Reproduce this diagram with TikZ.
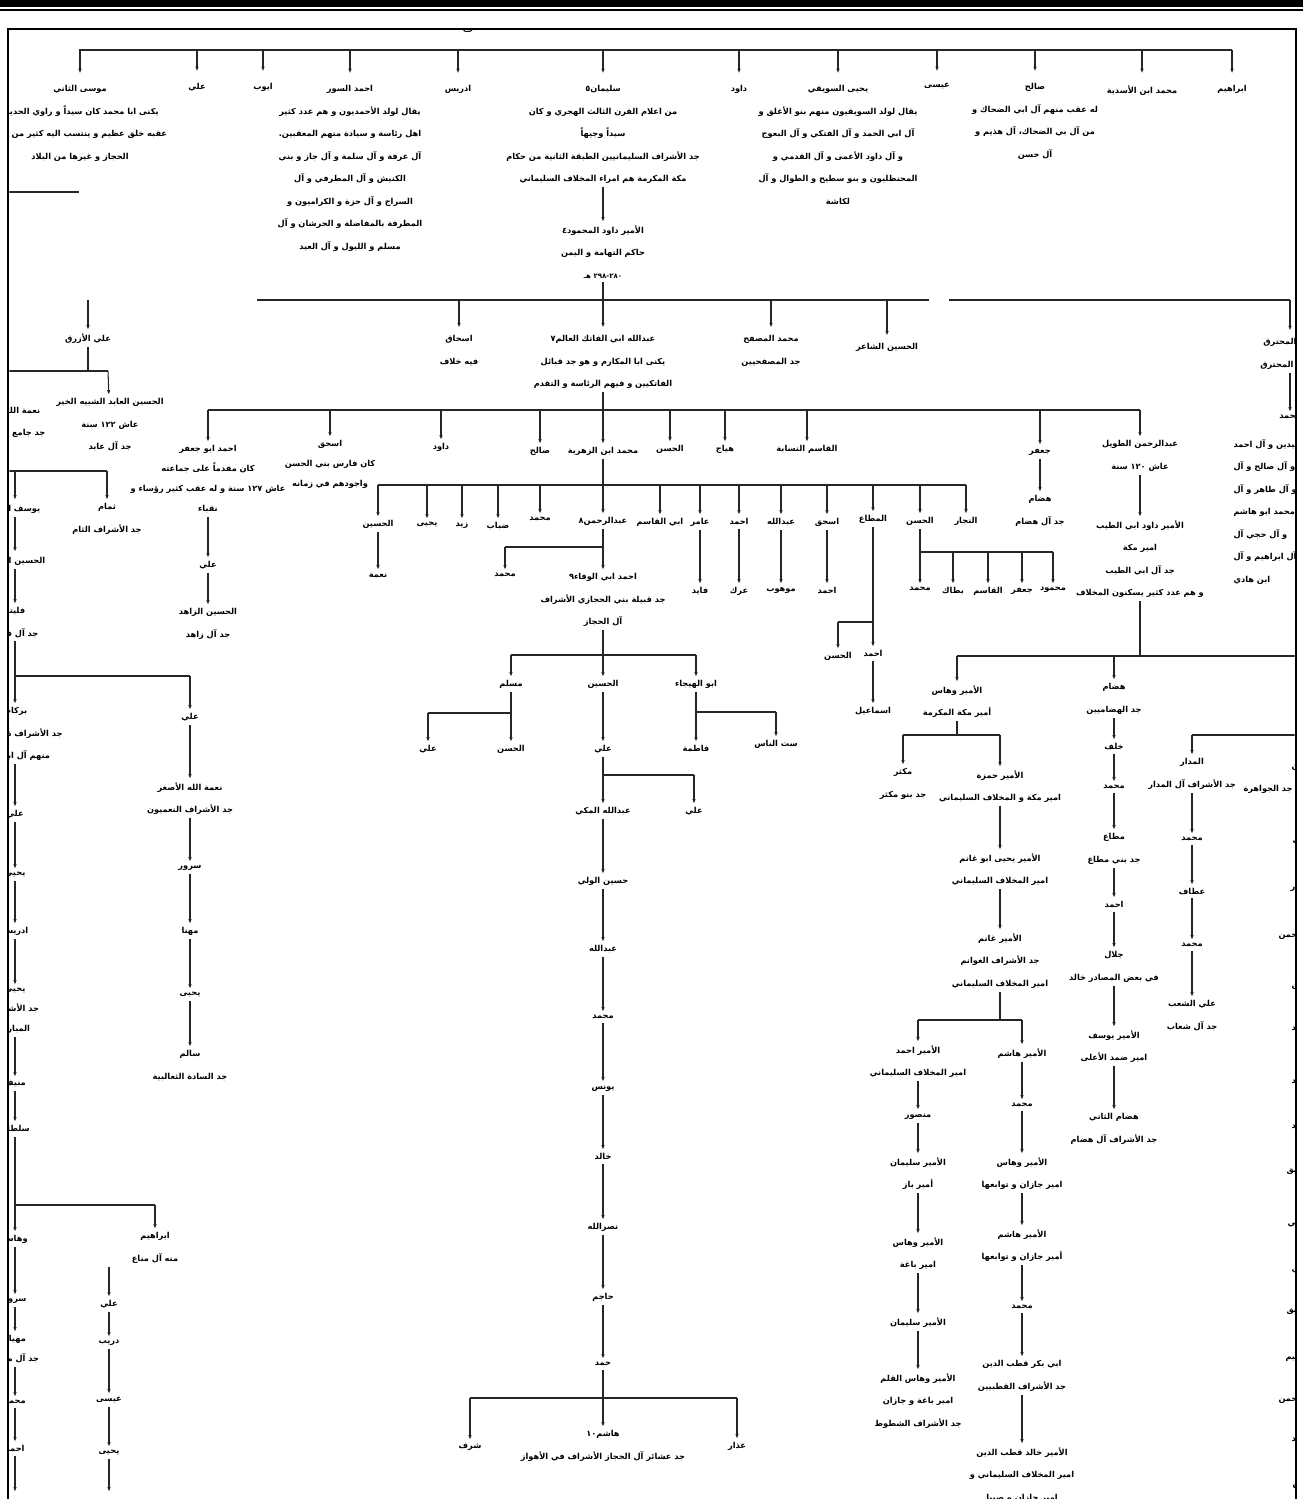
\documentclass[tikz,border=0pt]{standalone}
\usepackage{fontspec}
\newfontfamily\arabicfont[Script=Arabic]{DejaVu Sans}
\TeXXeTstate=1
\usetikzlibrary{arrows.meta,positioning}
\newcommand\arl[1]{\beginR #1\endR}
\newcommand\num[1]{\beginL#1\endL{}}

\begin{document}
\begin{tikzpicture}[x=0.05cm,y=-0.05cm,
  nm/.style={font=\arabicfont\bfseries\fontsize{11.7}{32}\selectfont,align=center,
             inner sep=1pt,outer sep=4pt,anchor=north},
  tight/.style={font=\arabicfont\bfseries\fontsize{11.7}{28.5}\selectfont},
  arr/.style={-{Latex[length=7pt,width=5pt]},line width=1.5pt,draw=black!85},
  ln/.style={line width=1.5pt,draw=black!85}
]
\useasboundingbox (0,0) rectangle (1303,1499);
% page rules and frame
\fill (0,0.5) rectangle (1303,7);
\fill (0,9.3) rectangle (1303,11.3);
\draw[line width=3.5pt] (8,1499) -- (8,29) -- (1296,29) -- (1296,1499);

\begin{scope}
\clip (9.3,30.3) rectangle (1294.7,1499);

% ---------- first generation
\node[nm] (darj)  at (470,23)  {\arl{درج}};
\coordinate (b1) at (79,50);
\node[nm] (ibr)   at (1232,82) {\arl{ابراهيم}};
\node[nm] (masad) at (1142,82) {\arl{محمد ابن الأسدية}};
\node[nm] (salih) at (1035,80) {\arl{صالح}\\\arl{له عقب منهم آل ابي الضحاك و}\\
  \arl{من آل بي الضحاك، آل هذيم و}\\\arl{آل حسن}};
\node[nm] (isa)   at (937,80)  {\arl{عيسى}};
\node[nm] (yahya) at (838,82)  {\arl{يحيى السويقي}\\
  \arl{يقال لولد السويقيون منهم بنو الأغلق و}\\
  \arl{آل ابي الحمد و آل الفتكي و آل البعوج}\\
  \arl{و آل داود الأعمى و آل القدمي و}\\
  \arl{المحنظليون و بنو سطيح و الطوال و آل}\\\arl{لكاشة}};
\node[nm] (dawud) at (739,82)  {\arl{داود}};
\node[nm] (sulay) at (603,82)  {\arl{سليمان٥}\\
  \arl{من اعلام القرن الثالث الهجري و كان}\\\arl{سيداً وجيهاً}\\
  \arl{جد الأشراف السليمانيين الطبقة الثانية من حكام}\\
  \arl{مكة المكرمة هم امراء المخلاف السليماني}};
\node[nm] (dawudM) at (603,222) {\arl{الأمير داود المحمود٤}\\\arl{حاكم التهامة و اليمن}\\
  {\fontsize{10}{10}\selectfont\arl{\num{٢٨٠-٢٩٨} هـ}}};
\node[nm] (idris) at (458,82)  {\arl{ادريس}};
\node[nm] (ahsur) at (350,82)  {\arl{احمد السور}\\
  \arl{يقال لولد الأحمديون و هم عدد كثير}\\
  \arl{اهل رئاسة و سيادة منهم المعقبين.}\\
  \arl{آل عرفة و آل سلمة و آل جاز و بني}\\
  \arl{الكنيش و آل المطرفي و آل}\\
  \arl{السراج و آل حزة و الكراميون و}\\
  \arl{المطرفة بالمفاضلة و الحرشان و آل}\\
  \arl{مسلم و الليول و آل العيد}};
\node[nm] (ayyub) at (263,80)  {\arl{ايوب}};
\node[nm] (ali1)  at (197,80)  {\arl{علي}};
\node[nm] (musa)  at (80,82)   {\arl{موسى الثاني}\\
  \arl{يكنى ابا محمد كان سيداً و راوي الحديث}\\
  \arl{عقبه خلق عظيم و ينتسب اليه كثير من أهل}\\
  \arl{الحجاز و غيرها من البلاد}};

\draw[ln] (b1) -- (b1 -| ibr);
\foreach \c in {ibr,masad,salih,isa,yahya,dawud,sulay,idris,ahsur,ayyub,ali1,musa}
  \draw[arr,shorten >=12pt] (b1 -| \c) -- (\c);
\draw[arr] (sulay) -- (dawudM);
\coordinate (lm) at (79,192);
\draw[ln] (0,192) -- (lm);

% ---------- second generation
\coordinate (b2) at (603,300);
\coordinate (b2L) at (257,300);
\coordinate (b2R) at (1290,300);
\node[nm] (ishaq1) at (459,332) {\arl{اسحاق}\\\arl{فيه خلاف}};
\node[nm] (abdFat) at (603,332) {\arl{عبدالله ابي الفاتك العالم٧}\\
  \arl{يكنى ابا المكارم و هو جد قبائل}\\
  \arl{الفاتكيين و فيهم الرئاسة و التقدم}};
\node[nm] (msfh)   at (771,332) {\arl{محمد المصفح}\\\arl{جد المصفحيين}};
\node[nm] (hshaer) at (887,340) {\arl{الحسين الشاعر}};
\node[nm] (mhtrq)  at (1290,335) {\arl{علي المحترق}\\\arl{جد آل المحترق}};
\node[nm] (muhR)   at (1290,412) {\arl{محمد}};
\node[nm,anchor=north west,align=left] (mhtrqD) at (1230,436)
  {\arl{منهم آل الحميدين و آل احمد}\\\arl{و آل صالح و آل}\\\arl{و آل طاهر و آل}\\
   \arl{و آل محمد ابو هاشم}\\\arl{و آل حجي آل}\\\arl{آل ابراهيم و آل}\\\arl{ابن هادي}};

\draw[ln] (dawudM) -- (b2);
\draw[ln] (b2L) -- (929,300);
\draw[ln] (949,300) -- (b2R);
\foreach \c in {ishaq1,abdFat,msfh,hshaer,mhtrq}
  \draw[arr,shorten >=6pt] (b2 -| \c) -- (\c);
\draw[arr] (mhtrq) -- (muhR);

% ---------- third generation
\coordinate (b3) at (603,410);
\node[nm,tight] (ajafar) at (208,442) {\arl{احمد ابو جعفر}\\\arl{كان مقدماً على جماعته}\\
  \arl{عاش \num{١٢٧} سنة و له عقب كثير رؤساء و}\\\arl{نقباء}};
\node[nm] (aliZ)   at (208,558) {\arl{علي}};
\node[nm] (hsZ)    at (208,605) {\arl{الحسين الزاهد}\\\arl{جد آل زاهد}};
\node[nm,tight] (ishaq2) at (330,437) {\arl{اسحق}\\\arl{كان فارس بني الحسن}\\\arl{واجودهم في زمانه}};
\node[nm] (dawud2) at (441,440) {\arl{داود}};
\node[nm] (salih2) at (540,444) {\arl{صالح}};
\node[nm] (zuhri)  at (603,444) {\arl{محمد ابن الزهرية}};
\node[nm] (hasan3) at (670,442) {\arl{الحسن}};
\node[nm] (hayyaj) at (725,442) {\arl{هياج}};
\node[nm] (qasim)  at (807,442) {\arl{القاسم النسابة}};
\node[nm] (jafar)  at (1040,445) {\arl{جعفر}};
\node[nm] (hdam)   at (1040,492) {\arl{هضام}\\\arl{جد آل هضام}};
\node[nm] (trwl)   at (1140,437) {\arl{عبدالرحمن الطويل}\\\arl{عاش \num{١٢٠} سنة}};
\node[nm] (dtayb)  at (1140,517) {\arl{الأمير داود ابي الطيب}\\\arl{امير مكة}\\
  \arl{جد آل ابي الطيب}\\\arl{و هم عدد كثير يسكنون المخلاف}};

\draw[ln] (b3 -| ajafar) -- (b3 -| trwl);
\draw[ln] (abdFat) -- (b3);
\foreach \c in {ajafar,ishaq2,dawud2,salih2,zuhri,hasan3,hayyaj,qasim,jafar,trwl}
  \draw[arr] (b3 -| \c) -- (\c);
\draw[arr] (ajafar) -- (aliZ);
\draw[arr] (aliZ) -- (hsZ);
\draw[arr] (jafar) -- (hdam);
\draw[arr] (trwl) -- (dtayb);

% ---------- sons of muhammad ibn al-zuhriya
\coordinate (b4) at (603,485);
\node[nm] (hsn4)   at (378,517) {\arl{الحسين}};
\node[nm] (nima1)  at (378,570) {\arl{نعمة}};
\node[nm] (yahya4) at (427,519) {\arl{يحيى}};
\node[nm] (zayd)   at (462,519) {\arl{زيد}};
\node[nm] (dabab)  at (498,519) {\arl{ضباب}};
\node[nm] (muh4)   at (540,514) {\arl{محمد}};
\node[nm] (abdrah) at (603,514) {\arl{عبدالرحمن٨}};
\node[nm] (abuq)   at (660,515) {\arl{ابي القاسم}};
\node[nm] (amir)   at (700,515) {\arl{عامر}};
\node[nm] (ahmad4) at (739,515) {\arl{احمد}};
\node[nm] (abdl4)  at (781,515) {\arl{عبدالله}};
\node[nm] (ishaq4) at (827,515) {\arl{اسحق}};
\node[nm] (mutaa)  at (873,512) {\arl{المطاع}};
\node[nm] (hasan4) at (920,514) {\arl{الحسن}};
\node[nm] (najjar) at (966,514) {\arl{النجار}};
\node[nm] (fayid)  at (700,584) {\arl{فايد}};
\node[nm] (arak)   at (739,584) {\arl{عرك}};
\node[nm] (mawhub) at (781,584) {\arl{موهوب}};
\node[nm] (ahmad5) at (827,584) {\arl{احمد}};

\draw[ln] (b4 -| hsn4) -- (b4 -| najjar);
\foreach \c in {hsn4,yahya4,zayd,dabab,muh4,abuq,amir,ahmad4,abdl4,ishaq4,mutaa,hasan4,najjar}
  \draw[arr] (b4 -| \c) -- (\c);
\draw[arr] (zuhri) -- (abdrah);
\draw[arr] (hsn4) -- (nima1);
\draw[arr] (amir) -- (fayid);
\draw[arr] (ahmad4) -- (arak);
\draw[arr] (abdl4) -- (mawhub);
\draw[arr] (ishaq4) -- (ahmad5);

% al-hasan's sons
\coordinate (b14) at (920,552);
\node[nm] (muh5)   at (920,584) {\arl{محمد}};
\node[nm] (battak) at (953,584) {\arl{بطاك}};
\node[nm] (qasim5) at (988,584) {\arl{القاسم}};
\node[nm] (jafar5) at (1022,584) {\arl{جعفر}};
\node[nm] (mahmud) at (1053,584) {\arl{محمود}};
\draw[ln] (hasan4) -- (b14);
\draw[ln] (b14) -- (b14 -| mahmud);
\foreach \c in {muh5,battak,qasim5,jafar5,mahmud}
  \draw[arr] (b14 -| \c) -- (\c);

% al-mutaa
\coordinate (b13) at (873,622);
\node[nm] (ahmad6) at (873,647) {\arl{احمد}};
\node[nm] (hasan6) at (838,649) {\arl{الحسن}};
\node[nm] (ismail) at (873,704) {\arl{اسماعيل}};
\draw[arr] (mutaa) -- (ahmad6);
\draw[ln] (b13) -- (b13 -| hasan6);
\draw[arr] (b13 -| hasan6) -- (hasan6);
\draw[arr] (ahmad6) -- (ismail);

% ---------- abdulrahman and ahmad abi al-wafa
\coordinate (b7) at (603,547);
\node[nm] (muh6) at (505,570) {\arl{محمد}};
\node[nm] (wafa) at (603,570) {\arl{احمد ابي الوفاء٩}\\
  \arl{جد قبيلة بني الحجازي الأشراف}\\\arl{آل الحجاز}};
\draw[arr] (abdrah) -- (wafa);
\draw[ln] (b7) -- (b7 -| muh6);
\draw[arr] (b7 -| muh6) -- (muh6);

\coordinate (b8) at (603,655);
\node[nm] (muslim) at (511,677) {\arl{مسلم}};
\node[nm] (husn7)  at (603,677) {\arl{الحسين}};
\node[nm] (hayja)  at (696,677) {\arl{ابو الهيجاء}};
\draw[ln] (b8 -| muslim) -- (b8 -| hayja);
\draw[arr] (wafa) -- (husn7);
\draw[arr] (b8 -| muslim) -- (muslim);
\draw[arr] (b8 -| hayja) -- (hayja);

\coordinate (b9) at (511,713);
\coordinate (b10) at (696,712);
\node[nm] (ali7)   at (428,742) {\arl{علي}};
\node[nm] (hasan7) at (511,742) {\arl{الحسن}};
\node[nm] (ali8)   at (603,742) {\arl{علي}};
\node[nm] (fatima) at (696,742) {\arl{فاطمة}};
\node[nm] (sitt)   at (776,737) {\arl{ست الناس}};
\draw[arr] (muslim) -- (hasan7);
\draw[ln] (b9) -- (b9 -| ali7);
\draw[arr] (b9 -| ali7) -- (ali7);
\draw[arr] (husn7) -- (ali8);
\draw[arr] (hayja) -- (fatima);
\draw[ln] (b10) -- (b10 -| sitt);
\draw[arr] (b10 -| sitt) -- (sitt);

\coordinate (b11) at (603,775);
\node[nm] (makki) at (603,804)  {\arl{عبدالله المكي}};
\node[nm] (ali9)  at (694,804)  {\arl{علي}};
\node[nm] (wali)  at (603,874)  {\arl{حسين الولي}};
\node[nm] (abdl9) at (603,942)  {\arl{عبدالله}};
\node[nm] (muh9)  at (603,1012) {\arl{محمد}};
\node[nm] (yunus) at (603,1082) {\arl{يونس}};
\node[nm] (khald) at (603,1150) {\arl{خالد}};
\node[nm] (nasr)  at (603,1220) {\arl{نصرالله}};
\node[nm] (hajim) at (603,1290) {\arl{حاجم}};
\node[nm] (hamad) at (603,1359) {\arl{حمد}};
\draw[arr] (ali8) -- (makki);
\draw[ln] (b11) -- (b11 -| ali9);
\draw[arr] (b11 -| ali9) -- (ali9);
\foreach \a/\b in {makki/wali,wali/abdl9,abdl9/muh9,muh9/yunus,yunus/khald,
                   khald/nasr,nasr/hajim,hajim/hamad}
  \draw[arr] (\a) -- (\b);

\coordinate (b12) at (603,1398);
\node[nm] (sharaf) at (470,1440) {\arl{شرف}};
\node[nm] (hshm10) at (603,1427) {\arl{هاشم١٠}\\\arl{جد عشائر آل الحجاز الأشراف في الأهواز}};
\node[nm] (adhar)  at (737,1439) {\arl{عذار}};
\draw[ln] (b12 -| sharaf) -- (b12 -| adhar);
\draw[arr] (hamad) -- (hshm10);
\draw[arr] (b12 -| sharaf) -- (sharaf);
\draw[arr] (b12 -| adhar) -- (adhar);

% ---------- sons of dawud abi al-tayyib
\coordinate (b5) at (1140,656);
\coordinate (b5R) at (1300,656);
\node[nm] (wahhas) at (957,682)  {\arl{الأمير وهاس}\\\arl{أمير مكة المكرمة}};
\node[nm] (hdam2)  at (1114,680) {\arl{هضام}\\\arl{جد الهضاميين}};
\draw[ln] (dtayb) -- (b5);
\draw[ln] (b5 -| wahhas) -- (b5R);
\draw[arr] (b5 -| wahhas) -- (wahhas);
\draw[arr] (b5 -| hdam2) -- (hdam2);

\coordinate (b15) at (957,735);
\node[nm] (mikthr) at (903,765)  {\arl{مكثر}\\\arl{جد بنو مكثر}};
\node[nm] (hamza)  at (1000,767) {\arl{الأمير حمزة}\\\arl{امير مكة و المخلاف السليماني}};
\node[nm] (yabug)  at (1000,850) {\arl{الأمير يحيى ابو غانم}\\\arl{امير المخلاف السليماني}};
\node[nm] (ghanim) at (1000,930) {\arl{الأمير غانم}\\\arl{جد الأشراف الغوانم}\\
  \arl{امير المخلاف السليماني}};
\draw[ln] (wahhas) -- (b15);
\draw[ln] (b15 -| mikthr) -- (b15 -| hamza);
\draw[arr] (b15 -| mikthr) -- (mikthr);
\draw[arr] (b15 -| hamza) -- (hamza);
\draw[arr] (hamza) -- (yabug);
\draw[arr] (yabug) -- (ghanim);

\coordinate (b16) at (1000,1020);
\node[nm] (ahmdA) at (918,1042)  {\arl{الأمير احمد}\\\arl{امير المخلاف السليماني}};
\node[nm] (mansr) at (918,1110)  {\arl{منصور}};
\node[nm] (sulA)  at (918,1154)  {\arl{الأمير سليمان}\\\arl{أمير باز}};
\node[nm] (wahB)  at (918,1234)  {\arl{الأمير وهاس}\\\arl{امير باغة}};
\node[nm] (sulB)  at (918,1314)  {\arl{الأمير سليمان}};
\node[nm] (wahQ)  at (918,1370)  {\arl{الأمير وهاس القلم}\\\arl{امير باغة و جازان}\\
  \arl{جد الأشراف الشطوط}};
\node[nm] (hshA)  at (1022,1045) {\arl{الأمير هاشم}};
\node[nm] (muhA)  at (1022,1100) {\arl{محمد}};
\node[nm] (wahC)  at (1022,1154) {\arl{الأمير وهاس}\\\arl{امير جازان و توابعها}};
\node[nm] (hshB)  at (1022,1226) {\arl{الأمير هاشم}\\\arl{أمير جازان و توابعها}};
\node[nm] (muhB)  at (1022,1302) {\arl{محمد}};
\node[nm] (qutb)  at (1022,1357) {\arl{ابي بكر قطب الدين}\\\arl{جد الأشراف القطبيين}};
\node[nm] (khldQ) at (1022,1444) {\arl{الأمير خالد قطب الدين}\\\arl{امير المخلاف السليماني و}\\
  \arl{امير جازان و صبيا}};
\draw[ln] (ghanim) -- (b16);
\draw[ln] (b16 -| ahmdA) -- (b16 -| hshA);
\draw[arr] (b16 -| ahmdA) -- (ahmdA);
\draw[arr] (b16 -| hshA) -- (hshA);
\foreach \a/\b in {ahmdA/mansr,mansr/sulA,sulA/wahB,wahB/sulB,sulB/wahQ,
                   hshA/muhA,muhA/wahC,wahC/hshB,hshB/muhB,muhB/qutb,qutb/khldQ}
  \draw[arr] (\a) -- (\b);

\node[nm] (khalf) at (1114,740)  {\arl{خلف}};
\node[nm] (muhH)  at (1114,782)  {\arl{محمد}};
\node[nm] (mutaH) at (1114,830)  {\arl{مطاع}\\\arl{جد بني مطاع}};
\node[nm] (ahmH)  at (1114,898)  {\arl{احمد}};
\node[nm] (jalal) at (1114,948)  {\arl{جلال}\\\arl{في بعض المصادر خالد}};
\node[nm] (yusuf) at (1114,1027) {\arl{الأمير يوسف}\\\arl{امير ضمد الأعلى}};
\node[nm] (hdam3) at (1114,1110) {\arl{هضام الثاني}\\\arl{جد الأشراف آل هضام}};
\foreach \a/\b in {hdam2/khalf,khalf/muhH,muhH/mutaH,mutaH/ahmH,ahmH/jalal,
                   jalal/yusuf,yusuf/hdam3}
  \draw[arr] (\a) -- (\b);

\coordinate (b17) at (1192,735);
\node[nm] (madar) at (1192,755)  {\arl{المدار}\\\arl{جد الأشراف آل المدار}};
\node[nm] (muhM)  at (1192,834)  {\arl{محمد}};
\node[nm] (attaf) at (1192,885)  {\arl{عطاف}};
\node[nm] (muhM2) at (1192,940)  {\arl{محمد}};
\node[nm] (shaab) at (1192,997)  {\arl{علي الشعب}\\\arl{جد آل شعاب}};
\draw[ln] (b17) -- (1300,735);
\draw[arr] (b17) -- (madar);
\foreach \a/\b in {madar/muhM,muhM/attaf,attaf/muhM2,muhM2/shaab}
  \draw[arr] (\a) -- (\b);

% cut names on the right edge
\node[nm,anchor=north west] (jwA) at (1288,759) {\arl{الحسن}};
\node[nm,anchor=north west] (jwB) at (1240,782) {\arl{جد الجواهرة}};
\foreach \t/\x/\y in {غالب/1289/834,منصور/1287/882,عبدالرحمن/1275/928,الحسن/1288/978,
    محمد/1288/1024,احمد/1288/1074,محمد/1288/1122,عتيق/1283/1165,علي/1284/1216,
    هادي/1288/1262,عتيق/1283/1305,ابراهيم/1282/1350,عبدالرحمن/1275/1392,
    محمد/1288/1435,قريش/1289/1478}
  \node[nm,anchor=north west] at (\x,\y) {\arl{\t}};

% ---------- left side: ali al-azraq
\coordinate (b6) at (108,371);
\node[nm] (azraq)  at (88,330)  {\arl{علي الأزرق}};
\node[nm] (hsAbid) at (110,395) {\arl{الحسين العابد الشبيه الخير}\\\arl{عاش \num{١٢٢} سنة}\\\arl{جد آل عابد}};
\node[nm] (nimaL)  at (10,402)  {\arl{نعمة الله الأكبر}\\\arl{جد جامع الأشراف}};
\draw[arr] (azraq |- b2L) -- (azraq);
\draw[ln] (azraq) -- (azraq |- b6);
\draw[ln] (0,371) -- (b6);
\draw[arr] (b6) -- (hsAbid);

\coordinate (b18) at (107,471);
\node[nm] (thmam) at (107,500) {\arl{ثمام}\\\arl{جد الأشراف الثام}};
\node[nm] (ysf)   at (15,500)  {\arl{يوسف الأول}};
\node[nm] (husL)  at (15,552)  {\arl{الحسين الأصغر}};
\node[nm] (flyt)  at (15,604)  {\arl{فليتة}\\\arl{جد آل فليتة}};
\draw[ln] (0,471) -- (b18);
\draw[arr] (b18) -- (thmam);
\draw[arr] (b18 -| ysf) -- (ysf);
\draw[arr] (ysf) -- (husL);
\draw[arr] (husL) -- (flyt);

\coordinate (b19) at (15,676);
\node[nm] (brkt)  at (15,704)  {\arl{بركات}\\\arl{جد الأشراف ذوي بركات}\\\arl{منهم آل ابي نمي}};
\node[nm] (aliL2) at (190,710) {\arl{علي}};
\node[nm] (nimaS) at (190,779) {\arl{نعمة الله الأصغر}\\\arl{جد الأشراف النعميون}};
\node[nm] (srur)  at (190,862) {\arl{سرور}};
\node[nm] (mhna)  at (190,924) {\arl{مهنا}};
\node[nm] (yhS)   at (190,989) {\arl{يحيى}};
\node[nm] (salim) at (190,1047) {\arl{سالم}\\\arl{جد السادة الثعالبية}};
\draw[ln] (flyt) -- (b19);
\draw[ln] (b19) -- (b19 -| aliL2);
\draw[arr] (b19) -- (brkt);
\draw[arr] (b19 -| aliL2) -- (aliL2);
\foreach \a/\b in {aliL2/nimaS,nimaS/srur,srur/mhna,mhna/yhS,yhS/salim}
  \draw[arr] (\a) -- (\b);

\node[nm] (aliL)  at (15,807)  {\arl{علي}};
\node[nm] (yhL)   at (15,869)  {\arl{يحيى}};
\node[nm] (idrL)  at (15,924)  {\arl{ادريس}};
\node[nm,tight] (yhL2) at (15,985) {\arl{يحيى}\\\arl{جد الأشراف}\\\arl{المبارك}};
\node[nm] (munif) at (15,1077) {\arl{منيف}};
\node[nm] (sultn) at (15,1122) {\arl{سلطان}};
\foreach \a/\b in {brkt/aliL,aliL/yhL,yhL/idrL,idrL/yhL2,yhL2/munif,munif/sultn}
  \draw[arr] (\a) -- (\b);

\coordinate (b20) at (15,1205);
\node[nm] (whsL) at (15,1232)  {\arl{وهاس}};
\node[nm] (ibrL) at (155,1229) {\arl{ابراهيم}\\\arl{منه آل مناع}};
\node[nm] (srL)  at (15,1295)  {\arl{سرور}};
\node[nm,tight] (mhyr) at (15,1332) {\arl{مهيار}\\\arl{جد آل مهيار}};
\node[nm] (muhL) at (15,1397)  {\arl{محمد}};
\node[nm] (ahmL) at (15,1442)  {\arl{احمد}};
\coordinate (endL) at (15,1492);
\draw[ln] (sultn) -- (b20);
\draw[ln] (b20) -- (b20 -| ibrL);
\draw[arr] (b20) -- (whsL);
\draw[arr] (b20 -| ibrL) -- (ibrL);
\foreach \a/\b in {whsL/srL,srL/mhyr,mhyr/muhL,muhL/ahmL}
  \draw[arr] (\a) -- (\b);
\draw[arr] (ahmL) -- (endL);

\node[nm] (aliM) at (109,1297) {\arl{علي}};
\node[nm] (drib) at (109,1337) {\arl{دريب}};
\node[nm] (isaM) at (109,1394) {\arl{عيسى}};
\node[nm] (yhM)  at (109,1447) {\arl{يحيى}};
\coordinate (endM) at (109,1492);
\draw[arr] (ibrL.south -| aliM) -- (aliM);
\foreach \a/\b in {aliM/drib,drib/isaM,isaM/yhM}
  \draw[arr] (\a) -- (\b);
\draw[arr] (yhM) -- (endM);
\end{scope}
\end{tikzpicture}
\end{document}
